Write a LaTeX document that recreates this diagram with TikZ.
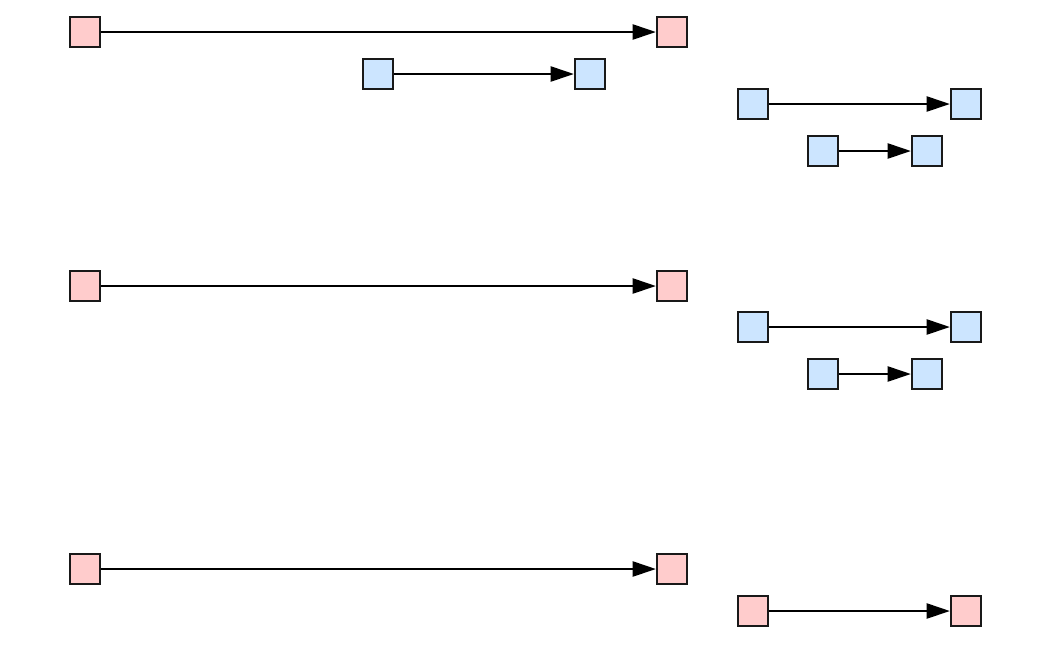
\documentclass[tikz,border=0pt]{standalone}
\usepackage{tikz}
\usetikzlibrary{arrows.meta, positioning}
\definecolor{boxred}{HTML}{FFCCCC}
\definecolor{boxblue}{HTML}{CCE5FF}

\begin{document}
\begin{tikzpicture}[
      x=0.025cm, y=-0.025cm,
      sq/.style={draw=black!90, line width=1.7pt, minimum size=0.75cm, inner sep=0pt},
      redsq/.style={sq, fill=boxred},
      bluesq/.style={sq, fill=boxblue},
      link/.style={line width=1.3pt, -{Triangle[length=0.58cm, width=0.38cm]}}
    ]
      \useasboundingbox (0,0) rectangle (1053,654);

      % First group
      \node[redsq] (a1) at (85,32) {};
      \node[redsq] (a2) at (672,32) {};
      \node[bluesq] (b1) at (378,74) {};
      \node[bluesq] (b2) at (590,74) {};
      \node[bluesq] (c1) at (753,104) {};
      \node[bluesq] (c2) at (966,104) {};
      \node[bluesq] (d1) at (823,151) {};
      \node[bluesq] (d2) at (927,151) {};

      % Second group
      \node[redsq] (e1) at (85,286) {};
      \node[redsq] (e2) at (672,286) {};
      \node[bluesq] (f1) at (753,327) {};
      \node[bluesq] (f2) at (966,327) {};
      \node[bluesq] (g1) at (823,374) {};
      \node[bluesq] (g2) at (927,374) {};

      % Third group
      \node[redsq] (h1) at (85,569) {};
      \node[redsq] (h2) at (672,569) {};
      \node[redsq] (k1) at (753,611) {};
      \node[redsq] (k2) at (966,611) {};

      % Arrows
      \foreach \s/\t in {a1/a2, b1/b2, c1/c2, d1/d2, e1/e2, f1/f2, g1/g2, h1/h2, k1/k2}
        \draw[link] (\s) -- (\t);
    \end{tikzpicture}
\end{document}
